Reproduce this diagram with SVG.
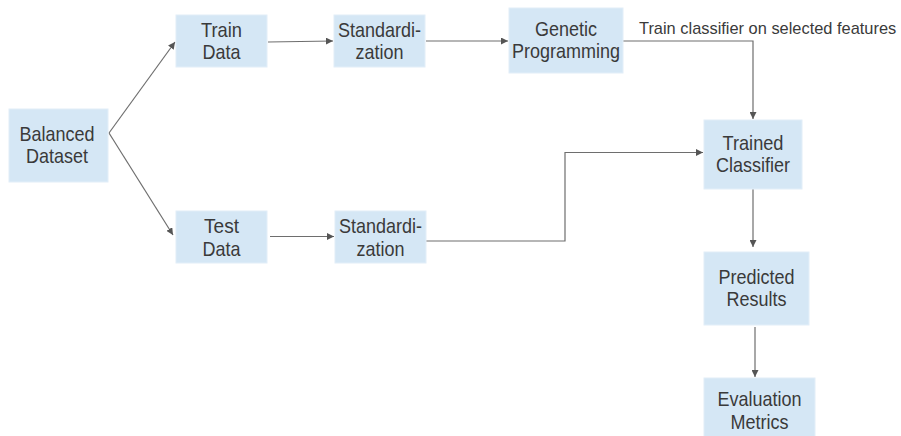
<svg xmlns="http://www.w3.org/2000/svg" width="901" height="436" viewBox="0 0 901 436">
<style>
.box{fill:#d5e7f5;stroke:#e2eef8;stroke-width:1}
.t{font-family:"Liberation Sans",Arial,sans-serif;font-size:21px;fill:#3a3a3a;text-anchor:middle}
.lbl{font-family:"Liberation Sans",Arial,sans-serif;font-size:16.4px;fill:#3a3a3a}
.c{fill:none;stroke:#6e6e6e;stroke-width:1.2;marker-end:url(#ah)}
</style>
<defs>
<marker id="ah" viewBox="0 0 10 10" refX="10" refY="5" markerWidth="7" markerHeight="7" markerUnits="userSpaceOnUse" orient="auto">
<path d="M0,0 L10,5 L0,10 z" fill="#555"/>
</marker>
</defs>
<rect width="901" height="436" fill="#fff"/>
<g id="connectors">
<path class="c" d="M109,133 L175,42"/>
<path class="c" d="M109,133 L173,235"/>
<path class="c" d="M268,42 L333,41"/>
<path class="c" d="M426,41 L508,41"/>
<path class="c" d="M623,41 L753,41 L753,119"/>
<path class="c" d="M270,236.5 L334,236.5"/>
<path class="c" d="M426,241 L565,241 L565,152.5 L703,152.5"/>
<path class="c" d="M753,189 L753,247"/>
<path class="c" d="M755,327 L755,377"/>
<text class="lbl" x="639" y="34">Train classifier on selected features</text>
</g>
<g id="balanced">
<rect class="box" x="9" y="109" width="99" height="73"/>
<text class="t" x="57" y="141" textLength="75" lengthAdjust="spacingAndGlyphs">Balanced</text>
<text class="t" x="57" y="163" textLength="62" lengthAdjust="spacingAndGlyphs">Dataset</text>
</g>
<g id="train">
<rect class="box" x="176" y="15" width="91" height="52"/>
<text class="t" x="221.5" y="37" textLength="41" lengthAdjust="spacingAndGlyphs">Train</text>
<text class="t" x="221.5" y="59" textLength="38" lengthAdjust="spacingAndGlyphs">Data</text>
</g>
<g id="std1">
<rect class="box" x="334" y="15" width="91" height="52"/>
<text class="t" x="379.5" y="37" textLength="83" lengthAdjust="spacingAndGlyphs">Standardi-</text>
<text class="t" x="379.5" y="59" textLength="48" lengthAdjust="spacingAndGlyphs">zation</text>
</g>
<g id="gp">
<rect class="box" x="509" y="8" width="114" height="65"/>
<text class="t" x="566" y="36" textLength="62" lengthAdjust="spacingAndGlyphs">Genetic</text>
<text class="t" x="566" y="58" textLength="108" lengthAdjust="spacingAndGlyphs">Programming</text>
</g>
<g id="trained">
<rect class="box" x="704" y="120" width="98" height="69"/>
<text class="t" x="753" y="150" textLength="61" lengthAdjust="spacingAndGlyphs">Trained</text>
<text class="t" x="753" y="172" textLength="74" lengthAdjust="spacingAndGlyphs">Classifier</text>
</g>
<g id="test">
<rect class="box" x="176" y="211" width="91" height="52"/>
<text class="t" x="221.5" y="233" textLength="35" lengthAdjust="spacingAndGlyphs">Test</text>
<text class="t" x="221.5" y="256" textLength="38" lengthAdjust="spacingAndGlyphs">Data</text>
</g>
<g id="std2">
<rect class="box" x="335" y="211" width="91" height="52"/>
<text class="t" x="380.5" y="233" textLength="83" lengthAdjust="spacingAndGlyphs">Standardi-</text>
<text class="t" x="380.5" y="256" textLength="48" lengthAdjust="spacingAndGlyphs">zation</text>
</g>
<g id="predicted">
<rect class="box" x="704" y="252" width="105" height="73"/>
<text class="t" x="756.5" y="284" textLength="76" lengthAdjust="spacingAndGlyphs">Predicted</text>
<text class="t" x="756.5" y="306" textLength="60" lengthAdjust="spacingAndGlyphs">Results</text>
</g>
<g id="evaluation">
<rect class="box" x="704" y="378" width="111" height="69"/>
<text class="t" x="759.5" y="406" textLength="84" lengthAdjust="spacingAndGlyphs">Evaluation</text>
<text class="t" x="759.5" y="429" textLength="58" lengthAdjust="spacingAndGlyphs">Metrics</text>
</g>
</svg>
